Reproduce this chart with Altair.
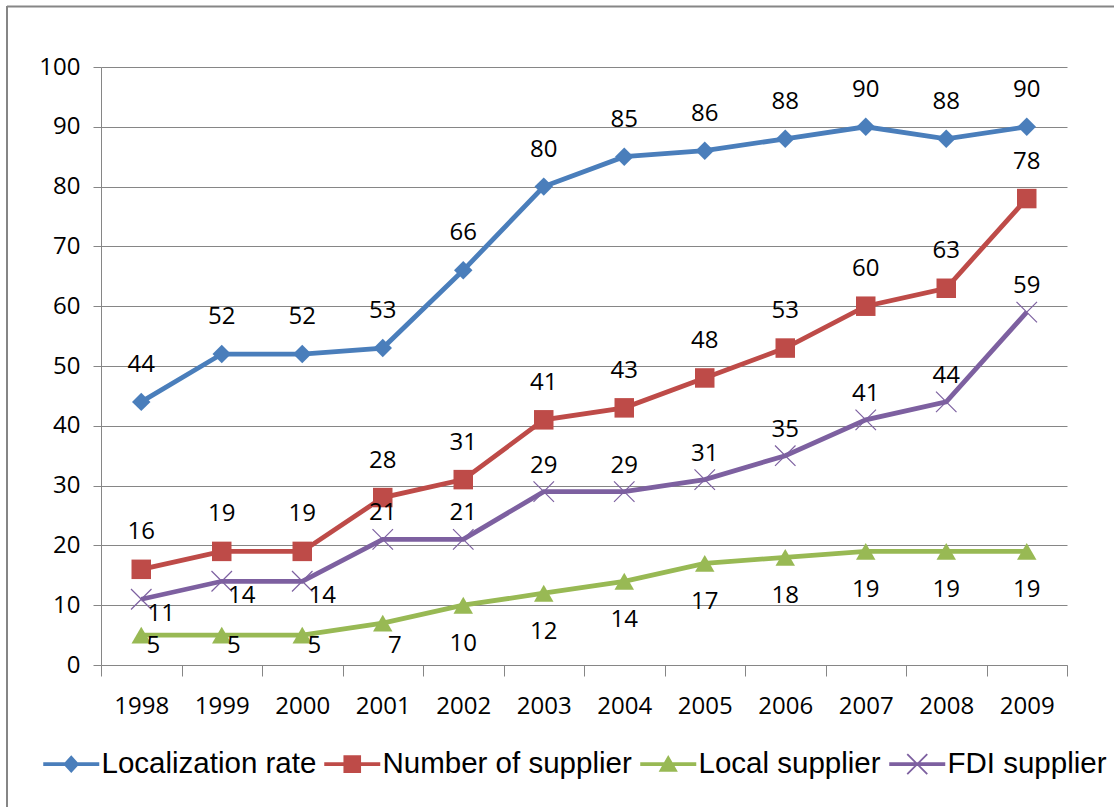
import altair as alt
import pandas as pd

# ---------------- data ----------------
years = ["1998", "1999", "2000", "2001", "2002", "2003",
         "2004", "2005", "2006", "2007", "2008", "2009"]
series_names = ["Localization rate", "Number of supplier", "Local supplier", "FDI supplier"]
localization_rate = [44, 52, 52, 53, 66, 80, 85, 86, 88, 90, 88, 90]
number_of_supplier = [16, 19, 19, 28, 31, 41, 43, 48, 53, 60, 63, 78]
local_supplier = [5, 5, 5, 7, 10, 12, 14, 17, 18, 19, 19, 19]
fdi_supplier = [11, 14, 14, 21, 21, 29, 29, 31, 35, 41, 44, 59]
y_ticks = [0, 10, 20, 30, 40, 50, 60, 70, 80, 90, 100]

colors = ["#4A7EBB", "#BE4B48", "#98B954", "#7D60A0"]
point_shapes = ["diamond", "square", "triangle-up", "M-1,-1L1,1M-1,1L1,-1"]
point_sizes = [340, 380, 380, 420]
point_filled = [True, True, True, False]
LINE = "M-3.5,-0.22H3.5V0.22H-3.5Z"
legend_paths = [
    LINE + " M0,-1.12L1.0,0L0,1.12L-1.0,0Z",
    LINE + " M-1.1,-1.1H1.1V1.1H-1.1Z",
    LINE + " M0,-1.15L1.2,0.95H-1.2Z",
    LINE + " M-1.17,-1.33L1.33,1.17L1.17,1.33L-1.33,-1.17Z"
           " M1.17,-1.33L1.33,-1.17L-1.17,1.33L-1.33,1.17Z",
]

rows = []
for name, vals in zip(series_names, [localization_rate, number_of_supplier, local_supplier, fdi_supplier]):
    for yr, v in zip(years, vals):
        rows.append({"year": yr, "series": name, "value": v})
df = pd.DataFrame(rows)

# ---------------- layout ----------------
W, H = 966, 598
PAD = {"left": 101, "top": 67, "right": 47, "bottom": 142}
GRID = "#868686"
NUM_FONT = "Open Sans"

legend = alt.Legend(
    title=None, orient="none", direction="horizontal", columns=4,
    legendX=-44.5, legendY=682, columnPadding=7, padding=0,
    symbolSize=256, labelOffset=15.5, labelLimit=500, symbolOpacity=1,
    symbolStrokeWidth=0,
    labelFont="Liberation Sans", labelFontSize=29.5, labelColor="#000000",
)

x_enc = alt.X(
    "year:O", sort=years,
    scale=alt.Scale(type="band", paddingInner=0, paddingOuter=0),
    bandPosition=0.5,
    axis=alt.Axis(title=None, labelAngle=0, tickBand="extent", ticks=True, tickSize=11,
                  labelPadding=18, grid=False, domainColor=GRID, tickColor=GRID,
                  labelFont=NUM_FONT, labelFontSize=24, labelColor="#000000"),
)
y_enc = alt.Y(
    "value:Q",
    scale=alt.Scale(domain=[0, 100], nice=False, zero=True),
    axis=alt.Axis(title=None, values=y_ticks, grid=True, gridColor=GRID, gridWidth=1,
                  tickSize=8, labelPadding=13, domainColor=GRID, tickColor=GRID,
                  labelFont=NUM_FONT, labelFontSize=24, labelColor="#000000"),
)
color_enc = alt.Color("series:N", scale=alt.Scale(domain=series_names, range=colors),
                      sort=series_names, legend=legend)
shape_enc = alt.Shape("series:N", scale=alt.Scale(domain=series_names, range=legend_paths),
                      sort=series_names, legend=legend)

base = alt.Chart(df)

lines = base.mark_line(strokeWidth=4.8).encode(x=x_enc, y=y_enc, color=color_enc)

# invisible layer that only feeds the legend its line+marker symbols
legend_feed = base.mark_point(filled=True, opacity=0).encode(
    x=x_enc, y=y_enc, color=color_enc, shape=shape_enc)

point_layers = []
for name, shp, sz, fl in zip(series_names, point_shapes, point_sizes, point_filled):
    point_layers.append(
        base.transform_filter(alt.datum.series == name)
        .mark_point(shape=shp, size=sz, filled=fl, opacity=1, strokeWidth=1.2)
        .encode(x=x_enc, y=y_enc, color=color_enc)
    )

txt = dict(font=NUM_FONT, fontSize=24, color="#000000", baseline="middle")

lab_loc = base.transform_filter(alt.datum.series == series_names[0]).mark_text(dy=-37, **txt).encode(
    x=x_enc, y=y_enc, text="value:Q")
lab_num = base.transform_filter(alt.datum.series == series_names[1]).mark_text(dy=-37, **txt).encode(
    x=x_enc, y=y_enc, text="value:Q")
lab_local_hi = (base.transform_filter((alt.datum.series == series_names[2]) & (alt.datum.value >= 8))
                .transform_calculate(ly="max(datum.value - 6.5, 3.2)")
                .mark_text(**txt).encode(x=x_enc, y=alt.Y("ly:Q"), text="value:Q"))
lab_local_lo = (base.transform_filter((alt.datum.series == series_names[2]) & (alt.datum.value < 8))
                .transform_calculate(ly="3.2")
                .mark_text(dx=12, **txt).encode(x=x_enc, y=alt.Y("ly:Q"), text="value:Q"))
lab_fdi_hi = (base.transform_filter((alt.datum.series == series_names[3]) & (alt.datum.value >= 20))
              .mark_text(dy=-26, **txt).encode(x=x_enc, y=y_enc, text="value:Q"))
lab_fdi_lo = (base.transform_filter((alt.datum.series == series_names[3]) & (alt.datum.value < 20))
              .mark_text(dx=20, dy=15, **txt).encode(x=x_enc, y=y_enc, text="value:Q"))

frame_src = alt.Chart(pd.DataFrame({"k": [0]}))
frame_top = frame_src.mark_rule(color=GRID, strokeWidth=2).encode(
    x=alt.value(-94), x2=alt.value(1030), y=alt.value(-60.5))
frame_left = frame_src.mark_rule(color=GRID, strokeWidth=2).encode(
    x=alt.value(-94), y=alt.value(-61), y2=alt.value(760))

chart = alt.layer(
    lines, legend_feed, *point_layers,
    lab_loc, lab_num, lab_local_hi, lab_local_lo, lab_fdi_hi, lab_fdi_lo,
    frame_top, frame_left,
).properties(
    width=W, height=H, padding=PAD,
    autosize=alt.AutoSizeParams(type="none"),
    background="#ffffff",
).configure_view(stroke=None)

chart.save("out.html", embed_options={"renderer": "svg", "actions": False})
